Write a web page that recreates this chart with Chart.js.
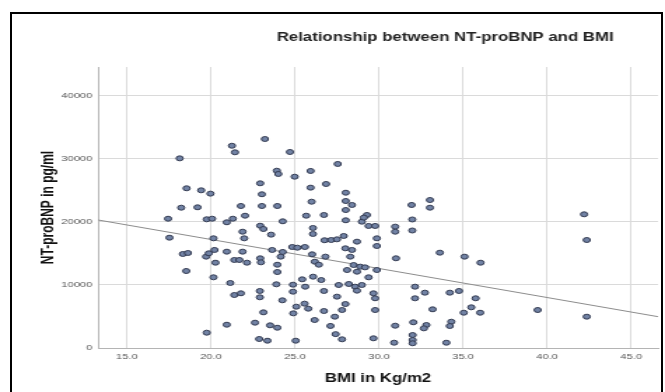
<!DOCTYPE html>
<html>
<head>
<meta charset="utf-8">
<script src="https://cdn.jsdelivr.net/npm/chart.js@4"></script>
<style>
  html, body { margin: 0; padding: 0; background: #fff; overflow: hidden; }
  #wrap { position: relative; width: 665px; height: 392px; }
  #frame { position: absolute; left: 10px; top: 12px; width: 653px; height: 400px; border: 2px solid #000; box-sizing: border-box; pointer-events: none; }
  canvas { position: absolute; left: 0; top: 0; }
</style>
</head>
<body>
<div id="wrap">
  <!-- the source picture is stretched sideways, so the chart is drawn narrow and widened by css -->
  <canvas id="scatterChart" width="475" height="392" style="width:665px;height:392px"></canvas>
  <div id="frame"></div>
</div>
<script>
const chartTitle = 'Relationship between NT-proBNP and BMI';
const xTitle = 'BMI in Kg/m2';
const yTitle = 'NT-proBNP in pg/ml';

const bmi = [
  18.14, 21.25, 21.43, 18.55, 19.42, 19.97, 18.23, 19.2, 21.78, 17.45, 19.75, 20.07, 20.94, 21.3, 22.03, 17.53, 20.15, 21.88,
  21.98, 18.33, 18.63, 19.71, 19.87, 20.21, 20.27, 20.94, 21.39, 21.69, 21.88, 18.53, 20.15, 21.15, 21.39, 21.78, 20.94, 19.75,
  23.21, 24.7, 23.92, 24.01, 24.98, 25.93, 22.93, 25.93, 26.85, 23.03, 25.99, 23.03, 23.95, 24.27, 25.67, 26.72, 22.93, 23.12,
  23.58, 26.07, 26.07, 26.76, 27.15, 22.14, 22.93, 22.97, 23.64, 24.15, 24.27, 24.84, 25.14, 25.59, 26.02, 26.18, 26.42, 26.81,
  23.95, 23.95, 26.08, 26.56, 25.43, 24.88, 23.89, 25.61, 22.91, 22.91, 24.88, 26.72, 24.25, 25.57, 25.08, 25.79, 26.72, 24.9,
  23.12, 26.17, 22.62, 23.52, 23.95, 22.87, 23.36, 25.04,
  27.37, 27.11, 27.42, 27.54, 28.02, 28.02, 28.39, 28.02, 28.02, 29.28, 28.98, 29.38, 29.77, 29.1, 31.94, 31.98, 31.98, 30.96,
  30.96, 27.5, 27.9, 28.69, 29.87, 29.87, 28.0, 28.39, 28.29, 31.01, 28.49, 28.88, 29.17, 28.1, 29.87, 28.69, 29.38, 27.6,
  28.2, 28.58, 28.98, 28.69, 29.67, 29.77, 27.5, 28.0, 27.8, 29.77, 27.8, 29.67, 30.96, 30.9,
  33.03, 33.03, 33.62, 35.09, 36.04, 32.14, 32.73, 34.21, 34.76, 32.14, 35.75, 33.19, 35.49, 35.04, 36.02, 32.04, 32.82, 32.67,
  34.3, 34.21, 32.0, 32.0, 32.0, 34.01, 42.2, 42.36, 39.44, 42.36
];

const ntProBnp = [
  30100, 32100, 31060, 25350, 25030, 24500, 22270, 22330, 22540, 20520, 20430, 20520, 19950, 20520, 21000, 17510, 17410, 18460,
  17410, 14920, 15080, 14500, 15030, 15560, 13540, 15290, 13970, 13970, 15290, 12220, 11220, 10320, 8410, 8680, 3700, 2430,
  33170, 31110, 28140, 27620, 27190, 28100, 26140, 25450, 26030, 24400, 23220, 22540, 22540, 20110, 21000, 21110, 19410, 18890,
  17990, 19050, 18100, 17100, 17140, 13540, 14240, 13600, 15560, 14500, 15240, 16030, 15920, 16030, 14870, 13700, 13220, 14500,
  13220, 12060, 11320, 10790, 10900, 10050, 10110, 9730, 9050, 8050, 8940, 9050, 7570, 7040, 6560, 6240, 5870, 5500,
  5660, 4440, 4020, 3600, 3220, 1430, 1160, 1160,
  4970, 3500, 2200, 29210, 24650, 23330, 22700, 21900, 20270, 21110, 20050, 19370, 19370, 20700, 22700, 20400, 18650, 19260,
  18460, 17250, 17780, 16880, 17410, 16190, 15820, 15560, 14500, 14240, 13170, 12910, 12800, 12380, 12380, 12110, 11220, 10000,
  10160, 9730, 10000, 9100, 8680, 7890, 8150, 6980, 6030, 6030, 1380, 1540, 3540, 840,
  23490, 22270, 15130, 14500, 13540, 9730, 8780, 8780, 9050, 7890, 7890, 6140, 6460, 5600, 5600, 4080, 3650, 3120,
  4170, 3490, 2060, 1270, 750, 840, 21220, 17140, 6030, 4970
];

// fit line ends at the plot edges
const fitX = [13.28, 46.6];
const fitY = [20320, 4970];

const xRange = [13.28, 46.6];
const yRange = [0, 44600];
const xTicks = [15, 20, 25, 30, 35, 40, 45];
const yTicks = [0, 10000, 20000, 30000, 40000];

const points = bmi.map((b, i) => ({ x: b, y: ntProBnp[i] }));
const fitLine = fitX.map((b, i) => ({ x: b, y: fitY[i] }));

const titleDraw = {
  id: 'titleDraw',
  afterDraw(chart) {
    const { ctx, chartArea } = chart;
    ctx.save();
    ctx.font = 'bold 12px "Liberation Sans", Arial, sans-serif';
    ctx.fillStyle = '#222';
    ctx.textAlign = 'center';
    ctx.textBaseline = 'middle';
    ctx.fillText(chartTitle, chartArea.left + chartArea.width * 0.62, 38);
    ctx.restore();
  }
};

const tickFont = { family: '"Liberation Sans", Arial, sans-serif', size: 8 };
const titleFont = { family: '"Liberation Sans", Arial, sans-serif', size: 12, weight: 'bold' };

const drawScatter = () => {
  const scatterChart = new Chart(document.getElementById('scatterChart'), {
    type: 'scatter',
    data: {
      datasets: [
        {
          label: 'Fit',
          data: fitLine,
          showLine: true,
          borderColor: '#8c8c8c',
          borderWidth: 1,
          pointRadius: 0,
          order: 2
        },
        {
          label: yTitle,
          data: points,
          backgroundColor: '#7283a5',
          borderColor: '#313950',
          borderWidth: 1,
          pointRadius: 2.5,
          order: 1
        }
      ]
    },
    options: {
      responsive: false,
      animation: false,
      layout: { padding: { top: 67, right: 3, left: 25, bottom: 0 } },
      plugins: {
        legend: { display: false },
        title: { display: false },
        tooltip: { enabled: false }
      },
      scales: {
        x: {
          type: 'linear',
          min: xRange[0],
          max: xRange[1],
          afterFit: (scale) => { scale.height = 44; },
          afterBuildTicks: (scale) => { scale.ticks = xTicks.map(v => ({ value: v })); },
          grid: { color: '#dadada', drawTicks: false },
          border: { color: '#b4b4b4' },
          ticks: {
            autoSkip: false,
            maxRotation: 0,
            padding: 4,
            color: '#555',
            font: tickFont,
            callback: (v) => v.toFixed(1)
          },
          title: {
            display: true,
            text: xTitle,
            color: '#111',
            font: titleFont,
            padding: { top: 4, bottom: 6 }
          }
        },
        y: {
          type: 'linear',
          min: yRange[0],
          max: yRange[1],
          afterFit: (scale) => { scale.width = 45; },
          afterBuildTicks: (scale) => { scale.ticks = yTicks.map(v => ({ value: v })); },
          grid: { color: '#dadada', drawTicks: false },
          border: { color: '#b4b4b4' },
          ticks: {
            autoSkip: false,
            padding: 4,
            color: '#555',
            font: tickFont,
            callback: (v) => String(v)
          },
          title: {
            display: true,
            text: yTitle,
            color: '#111',
            font: titleFont,
            padding: { top: 2, bottom: 2 }
          }
        }
      }
    },
    plugins: [titleDraw]
  });
};

drawScatter();
</script>
</body>
</html>
